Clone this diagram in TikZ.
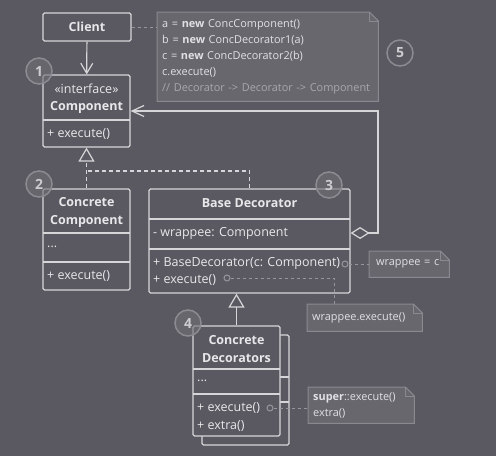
\documentclass[tikz,border=0pt]{standalone}
\usepackage{fontspec}
\setmainfont{Open Sans}
\usetikzlibrary{arrows.meta,calc}
\definecolor{bg}{RGB}{90,89,97}
\definecolor{ln}{RGB}{214,214,217}
\definecolor{tx}{RGB}{232,232,234}
\definecolor{notefill}{RGB}{104,103,110}
\definecolor{noteline}{RGB}{138,137,143}
\definecolor{notetx}{RGB}{225,225,228}
\definecolor{cmt}{RGB}{168,167,172}
\definecolor{circfill}{RGB}{112,111,118}
\definecolor{circline}{RGB}{140,139,145}
\definecolor{circtx}{RGB}{205,205,208}
\definecolor{linkc}{RGB}{150,149,155}
\pgfdeclarelayer{backl}
\pgfdeclarelayer{notel}
\pgfsetlayers{backl,notel,main}
\newcommand\drawnote[1]{%
  \filldraw[fill=notefill,draw=noteline,line width=1pt]
    (#1.north west) -- ($(#1.north east)+(-9pt,0pt)$) -- ($(#1.north east)+(0pt,-9pt)$)
    -- (#1.south east) -- (#1.south west) -- cycle;
  \draw[noteline,line width=1pt] ($(#1.north east)+(-9pt,0pt)$) -- ($(#1.north east)+(-9pt,-9pt)$) -- ($(#1.north east)+(0pt,-9pt)$);
}
\begin{document}
\begin{tikzpicture}[x=1pt,y=-1pt,
  box/.style={draw=ln, line width=1.2pt, rounded corners=1.5pt, inner sep=0pt, text=tx, font=\fontsize{12.5}{15}\selectfont},
  txt/.style={inner sep=0pt, text=tx, font=\fontsize{12.5}{15}\selectfont},
  ttl/.style={inner sep=0pt, text=tx, align=center, font=\bfseries\fontsize{12.5}{18}\selectfont},
  divl/.style={draw=ln, line width=1.2pt},
  conn/.style={draw=ln, line width=1.2pt},
  dsh/.style={dash pattern=on 4pt off 3pt},
  notetext/.style={inner xsep=5pt, inner ysep=0pt, align=left, text=notetx, font=\fontsize{10.9}{16}\selectfont},
  linkl/.style={draw=linkc, line width=1pt, dash pattern=on 3pt off 3pt},
  dotc/.style={circle, draw=linkc, line width=1pt, fill=bg, minimum size=6pt, inner sep=0pt},
  numc/.style={circle, draw=circline, line width=1.5pt, fill=circfill, fill opacity=0.6, text opacity=1, minimum size=26pt, inner sep=0pt, font=\bfseries\fontsize{14}{14}\selectfont, text=circtx},
  opentri/.style={-{Triangle[open,length=14pt,width=16pt]}}
]
\begin{pgfonlayer}{backl}
\fill[bg] (0,0) rectangle (496,456);
\end{pgfonlayer}
\useasboundingbox (0,0) rectangle (496,456);

% Client
\node[box, minimum width=88pt, minimum height=28pt, font=\bfseries\fontsize{12.5}{15}\selectfont] (client) at (87,27) {Client};

% Component
\node[box, minimum width=87pt, minimum height=72pt] (comp) at (86.5,111) {};
\draw[divl] (43,120) -- (130,120);
\node[txt] (compA) at (86.5,89) {«interface»};
\node[ttl] (compB) at (86.5,107) {Component};
\node[txt,anchor=west] (compC) at (47,134) {+ execute()};

% Concrete Component
\node[box, minimum width=87pt, minimum height=101pt] (cc) at (86.5,239.5) {};
\draw[divl] (43,233) -- (130,233);
\draw[divl] (43,262) -- (130,262);
\node[ttl] (ccA) at (86.5,212) {Concrete\\Component};
\node[txt,anchor=west] (ccB) at (47,247) {...};
\node[txt,anchor=west] (ccC) at (47,276) {+ execute()};

% Base Decorator
\node[box, minimum width=201pt, minimum height=104pt] (bd) at (249.5,241) {};
\draw[divl] (149,219) -- (350,219);
\draw[divl] (149,249) -- (350,249);
\node[ttl] (bdA) at (249.5,203) {Base Decorator};
\node[txt,anchor=west] (bdB) at (153,233) {- wrappee: Component};
\node[txt,anchor=west] (bdC) at (153,263) {+ BaseDecorator(c: Component)};
\node[txt,anchor=west] (bdD) at (153,280) {+ execute()};

% Concrete Decorators
\node[box, minimum width=87pt, minimum height=110pt] (cdb) at (245.5,390) {};
\draw[divl] (280,377) -- (289,377);
\draw[divl] (280,402) -- (289,402);
\node[box, fill=bg, minimum width=87pt, minimum height=110pt] (cd) at (236.5,381) {};
\draw[divl] (193,369) -- (280,369);
\draw[divl] (193,394) -- (280,394);
\node[ttl] (cdA) at (236.5,349) {Concrete\\Decorators};
\node[txt,anchor=west] (cdB) at (197,381) {...};
\node[txt,anchor=west] (cdC) at (197,408) {+ execute()};
\node[txt,anchor=west] (cdD) at (197,426) {+ extra()};

% Notes
\node[notetext, anchor=north west, minimum width=221pt, minimum height=89pt, text width=211pt] (n1) at (157,12)
  {a = \textbf{new} ConcComponent()\\ b = \textbf{new} ConcDecorator1(a)\\ c = \textbf{new} ConcDecorator2(b)\\ c.execute()\\ \textcolor{cmt}{// Decorator -> Decorator -> Component}};
\node[notetext, anchor=north west, inner xsep=7pt, minimum width=80pt, minimum height=26pt, text width=66pt] (n2) at (369,251) {wrappee = c};
\node[notetext, anchor=north west, minimum width=115pt, minimum height=27pt, text width=105pt] (n3) at (307,304) {wrappee.execute()};
\node[notetext, anchor=north west, minimum width=106pt, minimum height=36pt, text width=96pt] (n4) at (308,387) {\textbf{super}::execute()\\ extra()};
\begin{pgfonlayer}{notel}
\drawnote{n1}
\drawnote{n2}
\drawnote{n3}
\drawnote{n4}
\end{pgfonlayer}

% links to notes
\node[dotc] (d1) at (345,264) {};
\node[dotc] (d2) at (227,278) {};
\node[dotc] (d3) at (270,408) {};
\coordinate (n3t) at (334,304);
\draw[linkl] (client.east) -- (client.east -| n1.west);
\draw[linkl] (d1) -- (d1 -| n2.west);
\draw[linkl] (d2) -| (n3t);
\draw[linkl] (d3) -- (d3 -| n4.west);

% connectors
\draw[conn, -{Straight Barb[length=10pt,width=12pt]}] (client) -- (comp);
\coordinate (agg) at (bd.east |- 0,233);
\coordinate (aggc) at (378,111);
\draw[conn, {Diamond[open,length=19pt,width=12pt]}-{Straight Barb[length=12pt,width=11pt]}] (agg) -| (aggc) -- (comp.east |- aggc);
\coordinate (joint) at (86.5,171);
\draw[conn,dsh] (bd.north) |- (joint);
\draw[conn,dsh,opentri] (cc.north) -- (comp.south);
\draw[conn,opentri] (cd.north) -- (cd.north |- bd.south);

% numbers
\node[numc] (c1) at (39,71) {1};
\node[numc] (c2) at (39,184) {2};
\node[numc] (c3) at (329,185) {3};
\node[numc] (c4) at (188,323) {4};
\node[numc, fill=none] (c5) at (400,53) {5};
\end{tikzpicture}
\end{document}
